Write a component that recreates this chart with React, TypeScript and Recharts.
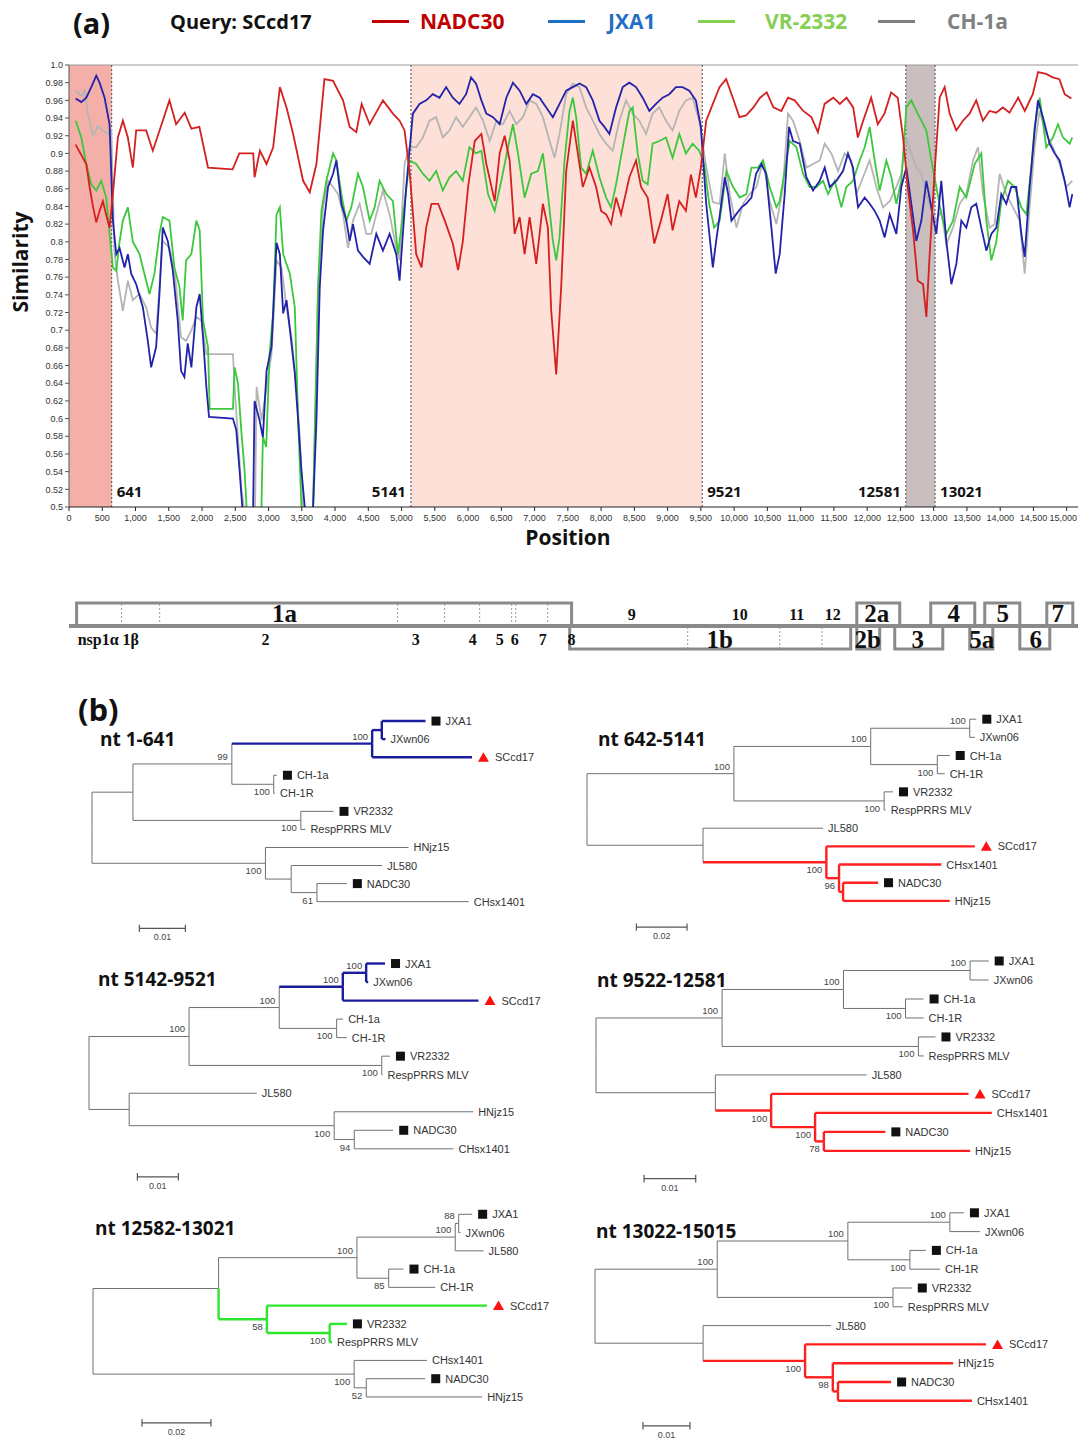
import React from "react";
import {
  ComposedChart,
  Line,
  Scatter,
  XAxis,
  YAxis,
  ReferenceArea,
  ReferenceLine,
} from "recharts";

const SANS = "'Open Sans', 'Noto Sans', sans-serif";
const ARIAL = "'Liberation Sans', Arial, sans-serif";
const SERIF = "'Liberation Serif', 'Times New Roman', serif";

// ---------- panel (a): similarity plot, [position, similarity] ----------
const nadc30 = [
  [100, 0.91], [260, 0.888], [310, 0.862], [360, 0.84], [410, 0.822], [460, 0.835], [510, 0.846], [560, 0.83],
  [610, 0.816], [660, 0.854], [735, 0.918], [810, 0.937], [885, 0.918], [960, 0.884], [1010, 0.926], [1160, 0.926],
  [1260, 0.903], [1410, 0.937], [1510, 0.96], [1610, 0.933], [1740, 0.946], [1840, 0.928], [1960, 0.93], [2090, 0.884],
  [2460, 0.882], [2560, 0.9], [2770, 0.9], [2790, 0.873], [2870, 0.903], [2970, 0.888], [3070, 0.907], [3170, 0.975],
  [3270, 0.952], [3370, 0.922], [3520, 0.869], [3620, 0.856], [3720, 0.888], [3840, 0.984], [3970, 0.982], [4120, 0.96],
  [4220, 0.93], [4320, 0.924], [4400, 0.956], [4520, 0.933], [4720, 0.96], [4870, 0.945], [4970, 0.937], [5045, 0.926],
  [5120, 0.88], [5220, 0.786], [5300, 0.771], [5370, 0.816], [5450, 0.843], [5550, 0.843], [5650, 0.824], [5770, 0.798],
  [5850, 0.768], [5920, 0.8], [6000, 0.862], [6100, 0.914], [6200, 0.922], [6275, 0.888], [6400, 0.846], [6475, 0.9],
  [6550, 0.92], [6625, 0.892], [6700, 0.809], [6775, 0.828], [6850, 0.786], [6925, 0.828], [7025, 0.775], [7125, 0.843],
  [7200, 0.816], [7250, 0.722], [7325, 0.65], [7400, 0.749], [7475, 0.88], [7575, 0.937], [7650, 0.9], [7725, 0.862],
  [7825, 0.884], [7925, 0.862], [8000, 0.835], [8075, 0.831], [8150, 0.82], [8225, 0.85], [8300, 0.831], [8425, 0.873],
  [8525, 0.892], [8600, 0.862], [8700, 0.85], [8800, 0.798], [8900, 0.824], [9000, 0.854], [9075, 0.813], [9175, 0.846],
  [9275, 0.835], [9350, 0.876], [9425, 0.85], [9500, 0.884], [9580, 0.937], [9680, 0.956], [9780, 0.975], [9880, 0.984],
  [9980, 0.963], [10080, 0.941], [10180, 0.943], [10290, 0.952], [10390, 0.963], [10490, 0.969], [10590, 0.952],
  [10710, 0.948], [10810, 0.963], [10910, 0.96], [11040, 0.948], [11160, 0.941], [11260, 0.924], [11360, 0.956],
  [11490, 0.963], [11590, 0.956], [11690, 0.963], [11790, 0.952], [11860, 0.918], [11940, 0.937], [12060, 0.963],
  [12160, 0.933], [12260, 0.945], [12360, 0.969], [12460, 0.963], [12540, 0.918], [12610, 0.862], [12690, 0.813],
  [12760, 0.756], [12840, 0.752], [12890, 0.715], [12940, 0.786], [13015, 0.88], [13090, 0.963], [13165, 0.975],
  [13240, 0.945], [13340, 0.926], [13440, 0.937], [13540, 0.945], [13640, 0.96], [13740, 0.937], [13840, 0.948],
  [13940, 0.946], [14040, 0.952], [14140, 0.946], [14270, 0.963], [14370, 0.948], [14490, 0.967], [14570, 0.992],
  [14690, 0.99], [14790, 0.986], [14890, 0.984], [14970, 0.967], [15070, 0.962],
];

const jxa1 = [
  [100, 0.962], [185, 0.958], [260, 0.963], [335, 0.975], [410, 0.988], [460, 0.98], [535, 0.963], [610, 0.933],
  [660, 0.824], [710, 0.786], [760, 0.793], [835, 0.771], [885, 0.786], [935, 0.764], [1010, 0.752], [1110, 0.726],
  [1185, 0.688], [1235, 0.658], [1310, 0.681], [1360, 0.741], [1410, 0.816], [1485, 0.801], [1560, 0.768], [1635, 0.711],
  [1685, 0.654], [1735, 0.647], [1785, 0.685], [1840, 0.658], [1915, 0.726], [1965, 0.741], [2015, 0.692], [2065, 0.636],
  [2105, 0.602], [2465, 0.6], [2515, 0.587], [2565, 0.541], [2605, 0.5], [2640, 0.45], [2760, 0.45], [2790, 0.62],
  [2865, 0.598], [2915, 0.579], [2970, 0.654], [3045, 0.681], [3120, 0.799], [3170, 0.786], [3220, 0.719], [3270, 0.734],
  [3345, 0.685], [3395, 0.651], [3445, 0.598], [3495, 0.541], [3545, 0.5], [3580, 0.45], [3640, 0.45], [3670, 0.5],
  [3720, 0.598], [3770, 0.749], [3820, 0.813], [3895, 0.862], [3970, 0.877], [4020, 0.892], [4095, 0.843], [4170, 0.824],
  [4220, 0.801], [4270, 0.82], [4345, 0.79], [4420, 0.783], [4520, 0.775], [4620, 0.809], [4720, 0.79], [4820, 0.809],
  [4920, 0.786], [4970, 0.756], [5070, 0.862], [5170, 0.945], [5270, 0.956], [5370, 0.96], [5470, 0.967], [5570, 0.963],
  [5670, 0.975], [5770, 0.963], [5870, 0.956], [5970, 0.967], [6045, 0.986], [6120, 0.979], [6200, 0.96], [6275, 0.945],
  [6375, 0.941], [6475, 0.933], [6575, 0.963], [6675, 0.98], [6775, 0.971], [6875, 0.956], [6975, 0.967], [7075, 0.963],
  [7175, 0.952], [7275, 0.941], [7375, 0.956], [7475, 0.971], [7575, 0.975], [7675, 0.979], [7775, 0.975], [7875, 0.96],
  [7975, 0.937], [8050, 0.93], [8125, 0.922], [8225, 0.952], [8325, 0.975], [8425, 0.98], [8525, 0.975], [8625, 0.963],
  [8725, 0.948], [8825, 0.956], [8925, 0.963], [9025, 0.967], [9125, 0.975], [9225, 0.975], [9325, 0.971], [9425, 0.96],
  [9500, 0.93], [9580, 0.843], [9680, 0.771], [9730, 0.801], [9780, 0.828], [9860, 0.873], [9910, 0.854], [9960, 0.824],
  [10030, 0.831], [10110, 0.839], [10180, 0.843], [10260, 0.85], [10330, 0.877], [10410, 0.888], [10480, 0.877],
  [10560, 0.816], [10625, 0.764], [10685, 0.786], [10760, 0.854], [10826, 0.93], [10886, 0.914], [10986, 0.911],
  [11086, 0.873], [11186, 0.858], [11287, 0.869], [11362, 0.884], [11437, 0.862], [11537, 0.869], [11637, 0.88],
  [11712, 0.9], [11787, 0.884], [11863, 0.839], [11963, 0.85], [12038, 0.843], [12113, 0.835], [12188, 0.824],
  [12263, 0.805], [12339, 0.831], [12439, 0.809], [12514, 0.862], [12589, 0.884], [12664, 0.843], [12739, 0.801],
  [12815, 0.824], [12890, 0.869], [12965, 0.839], [13040, 0.809], [13115, 0.869], [13190, 0.801], [13266, 0.752],
  [13341, 0.775], [13416, 0.824], [13491, 0.816], [13566, 0.839], [13641, 0.843], [13716, 0.816], [13792, 0.79],
  [13867, 0.809], [13942, 0.816], [14017, 0.854], [14092, 0.843], [14167, 0.862], [14242, 0.862], [14318, 0.809],
  [14368, 0.783], [14443, 0.862], [14518, 0.926], [14568, 0.96], [14643, 0.941], [14743, 0.911], [14819, 0.9],
  [14894, 0.892], [14969, 0.869], [15044, 0.839], [15084, 0.854],
];

const vr2332 = [
  [100, 0.937], [185, 0.918], [260, 0.888], [335, 0.865], [410, 0.858], [485, 0.869], [560, 0.85], [610, 0.809],
  [660, 0.771], [710, 0.767], [760, 0.8], [810, 0.824], [885, 0.839], [960, 0.8], [1060, 0.786], [1160, 0.756],
  [1210, 0.741], [1285, 0.764], [1360, 0.809], [1410, 0.828], [1510, 0.824], [1585, 0.771], [1660, 0.749], [1710, 0.711],
  [1760, 0.779], [1840, 0.786], [1915, 0.824], [1965, 0.813], [2015, 0.711], [2090, 0.681], [2115, 0.611], [2465, 0.611],
  [2490, 0.658], [2540, 0.64], [2590, 0.587], [2640, 0.541], [2670, 0.5], [2700, 0.45], [2880, 0.45], [2915, 0.579],
  [2965, 0.568], [3015, 0.673], [3070, 0.72], [3120, 0.831], [3170, 0.839], [3220, 0.786], [3320, 0.764], [3395, 0.726],
  [3445, 0.598], [3495, 0.5], [3520, 0.45], [3650, 0.45], [3670, 0.5], [3745, 0.749], [3795, 0.835], [3870, 0.869],
  [3970, 0.9], [4020, 0.892], [4095, 0.854], [4170, 0.824], [4245, 0.839], [4345, 0.877], [4420, 0.862], [4520, 0.824],
  [4595, 0.839], [4670, 0.869], [4770, 0.854], [4870, 0.846], [4945, 0.786], [5045, 0.843], [5120, 0.892], [5220, 0.888],
  [5320, 0.877], [5420, 0.869], [5520, 0.88], [5620, 0.858], [5720, 0.873], [5820, 0.88], [5920, 0.869], [6020, 0.907],
  [6120, 0.9], [6200, 0.903], [6300, 0.854], [6400, 0.835], [6500, 0.869], [6600, 0.907], [6675, 0.933], [6750, 0.9],
  [6850, 0.85], [6950, 0.877], [7050, 0.88], [7125, 0.9], [7200, 0.854], [7275, 0.801], [7325, 0.779], [7375, 0.805],
  [7450, 0.892], [7525, 0.948], [7575, 0.963], [7625, 0.941], [7700, 0.884], [7775, 0.877], [7875, 0.903], [7975, 0.873],
  [8075, 0.85], [8150, 0.839], [8225, 0.865], [8325, 0.907], [8425, 0.948], [8475, 0.952], [8550, 0.9], [8625, 0.869],
  [8700, 0.865], [8775, 0.911], [8875, 0.914], [8975, 0.918], [9075, 0.895], [9175, 0.922], [9275, 0.9], [9375, 0.911],
  [9475, 0.903], [9550, 0.888], [9625, 0.843], [9700, 0.816], [9783, 0.824], [9884, 0.88], [9984, 0.862], [10084, 0.85],
  [10184, 0.854], [10260, 0.884], [10360, 0.884], [10435, 0.892], [10535, 0.862], [10635, 0.839], [10685, 0.846],
  [10760, 0.88], [10836, 0.914], [10936, 0.907], [11036, 0.877], [11136, 0.862], [11237, 0.862], [11337, 0.869],
  [11412, 0.854], [11512, 0.869], [11612, 0.839], [11687, 0.862], [11787, 0.869], [11888, 0.892], [11963, 0.907],
  [12038, 0.93], [12113, 0.892], [12188, 0.858], [12289, 0.892], [12364, 0.873], [12439, 0.843], [12514, 0.869],
  [12589, 0.952], [12664, 0.96], [12739, 0.948], [12815, 0.937], [12890, 0.926], [12965, 0.892], [13040, 0.862],
  [13115, 0.831], [13190, 0.809], [13291, 0.824], [13391, 0.862], [13491, 0.85], [13616, 0.888], [13716, 0.9],
  [13792, 0.824], [13867, 0.779], [13942, 0.8], [14017, 0.846], [14117, 0.869], [14218, 0.862], [14318, 0.839],
  [14393, 0.831], [14468, 0.884], [14518, 0.93], [14593, 0.963], [14693, 0.907], [14793, 0.918], [14869, 0.933],
  [14944, 0.918], [15044, 0.911], [15084, 0.918],
];

const ch1a = [
  [100, 0.971], [185, 0.965], [235, 0.971], [285, 0.945], [360, 0.92], [435, 0.931], [510, 0.926], [585, 0.922],
  [635, 0.926], [685, 0.786], [735, 0.756], [810, 0.722], [885, 0.756], [960, 0.734], [1060, 0.741], [1160, 0.726],
  [1235, 0.703], [1310, 0.696], [1360, 0.749], [1410, 0.801], [1510, 0.793], [1585, 0.768], [1685, 0.692], [1760, 0.688],
  [1840, 0.7], [1915, 0.715], [1990, 0.711], [2065, 0.673], [2465, 0.673], [2490, 0.636], [2540, 0.579], [2590, 0.522],
  [2630, 0.5], [2660, 0.45], [2790, 0.45], [2820, 0.636], [2895, 0.598], [2970, 0.636], [3045, 0.673], [3120, 0.779],
  [3195, 0.771], [3270, 0.726], [3345, 0.692], [3420, 0.636], [3470, 0.579], [3520, 0.5], [3550, 0.45], [3650, 0.45],
  [3670, 0.5], [3745, 0.749], [3820, 0.839], [3895, 0.869], [3970, 0.862], [4045, 0.854], [4120, 0.831], [4195, 0.793],
  [4270, 0.824], [4370, 0.843], [4470, 0.809], [4545, 0.809], [4620, 0.831], [4720, 0.858], [4820, 0.831], [4920, 0.793],
  [4970, 0.779], [5045, 0.888], [5120, 0.907], [5220, 0.907], [5320, 0.918], [5420, 0.937], [5520, 0.941], [5620, 0.918],
  [5720, 0.926], [5820, 0.941], [5920, 0.93], [6020, 0.941], [6120, 0.952], [6225, 0.937], [6325, 0.914], [6425, 0.937],
  [6525, 0.933], [6625, 0.948], [6725, 0.933], [6825, 0.941], [6925, 0.96], [7025, 0.956], [7125, 0.941], [7225, 0.914],
  [7300, 0.895], [7375, 0.922], [7475, 0.967], [7575, 0.979], [7675, 0.975], [7775, 0.952], [7875, 0.937], [7975, 0.922],
  [8075, 0.911], [8175, 0.903], [8275, 0.937], [8375, 0.96], [8475, 0.945], [8575, 0.937], [8675, 0.922], [8775, 0.945],
  [8875, 0.952], [8975, 0.937], [9075, 0.926], [9175, 0.948], [9275, 0.96], [9375, 0.963], [9475, 0.937], [9580, 0.885],
  [9680, 0.845], [9783, 0.843], [9859, 0.9], [9934, 0.854], [10034, 0.816], [10134, 0.843], [10235, 0.854],
  [10335, 0.862], [10435, 0.892], [10535, 0.846], [10635, 0.82], [10735, 0.862], [10810, 0.945], [10886, 0.937],
  [10986, 0.914], [11086, 0.884], [11186, 0.888], [11287, 0.892], [11362, 0.911], [11462, 0.9], [11562, 0.88],
  [11662, 0.9], [11762, 0.892], [11838, 0.854], [11938, 0.873], [12038, 0.892], [12138, 0.862], [12238, 0.839],
  [12339, 0.846], [12439, 0.862], [12514, 0.877], [12589, 0.918], [12664, 0.9], [12739, 0.884], [12815, 0.877],
  [12890, 0.854], [12965, 0.835], [13040, 0.824], [13115, 0.835], [13190, 0.797], [13291, 0.816], [13391, 0.843],
  [13491, 0.854], [13591, 0.892], [13666, 0.907], [13741, 0.854], [13842, 0.816], [13917, 0.82], [13992, 0.877],
  [14092, 0.854], [14192, 0.839], [14293, 0.824], [14368, 0.764], [14443, 0.839], [14518, 0.907], [14593, 0.948],
  [14693, 0.922], [14793, 0.907], [14894, 0.888], [14994, 0.862], [15084, 0.869],
];

const xTicks = [
  0, 500, 1000, 1500, 2000, 2500, 3000, 3500, 4000, 4500, 5000, 5500, 6000, 6500, 7000, 7500,
  8000, 8500, 9000, 9500, 10000, 10500, 11000, 11500, 12000, 12500, 13000, 13500, 14000, 14500, 15000,
];
const yTicks = [
  0.5, 0.52, 0.54, 0.56, 0.58, 0.6, 0.62, 0.64, 0.66, 0.68, 0.7, 0.72, 0.74,
  0.76, 0.78, 0.8, 0.82, 0.84, 0.86, 0.88, 0.9, 0.92, 0.94, 0.96, 0.98, 1.0,
];

const breakpoints = [641, 5141, 9521, 12581, 13021];
const shaded = [
  { from: 0, to: 641, fill: "#f4b0a8" },
  { from: 5141, to: 9521, fill: "#fde0d8" },
  { from: 12581, to: 13021, fill: "#cbbebe" },
];
const breakLabels = [
  { pos: 641, sim: 0.52, text: "641", side: 1 },
  { pos: 5141, sim: 0.52, text: "5141", side: -1 },
  { pos: 9521, sim: 0.52, text: "9521", side: 1 },
  { pos: 12581, sim: 0.52, text: "12581", side: -1 },
  { pos: 13021, sim: 0.52, text: "13021", side: 1 },
];

const legend = [
  { name: "NADC30", color: "#c00000", x: 372, gap: 48 },
  { name: "JXA1", color: "#1f6fc6", x: 548, gap: 60 },
  { name: "VR-2332", color: "#86cf55", x: 698, gap: 67 },
  { name: "CH-1a", color: "#808080", x: 878, gap: 69 },
];

// ---------- genome map ----------
const orfs = [
  { name: "1a", start: 114, end: 7556, row: 1, label: 3241 },
  { name: "1b", start: 7528, end: 11753, row: 0, label: 9782 },
  { name: "2a", start: 11844, end: 12490, row: 1, label: 12143 },
  { name: "2b", start: 11844, end: 12189, row: 0, label: 12008 },
  { name: "3", start: 12415, end: 13137, row: 0, label: 12760 },
  { name: "4", start: 12956, end: 13618, row: 1, label: 13302 },
  { name: "5a", start: 13543, end: 13889, row: 0, label: 13722 },
  { name: "5", start: 13768, end: 14295, row: 1, label: 14039 },
  { name: "6", start: 14295, end: 14746, row: 0, label: 14535 },
  { name: "7", start: 14701, end: 15092, row: 1, label: 14866 },
];
const nspCuts1a = [791, 1363, 4941, 5648, 6174, 6655, 6716, 7197];
const nspCuts1b = [9302, 10686, 11320];
const nspLabels = [
  { text: "nsp1α 1β", pos: 130, row: 0.42, anchor: "start" },
  { text: "2", pos: 2956, row: 0.42, anchor: "middle" },
  { text: "3", pos: 5212, row: 0.42, anchor: "middle" },
  { text: "4", pos: 6069, row: 0.42, anchor: "middle" },
  { text: "5", pos: 6475, row: 0.42, anchor: "middle" },
  { text: "6", pos: 6700, row: 0.42, anchor: "middle" },
  { text: "7", pos: 7122, row: 0.42, anchor: "middle" },
  { text: "8", pos: 7556, row: 0.42, anchor: "middle" },
  { text: "9", pos: 8460, row: 1.52, anchor: "middle" },
  { text: "10", pos: 10084, row: 1.52, anchor: "middle" },
  { text: "11", pos: 10941, row: 1.52, anchor: "middle" },
  { text: "12", pos: 11482, row: 1.52, anchor: "middle" },
];

// ---------- panel (b): trees (branch depth in substitutions/site) ----------
type TNode = { id: string; p?: string; d: number; name?: string; m?: "s" | "t"; s?: string; b?: boolean; hl?: string };
const BLUE = "#1c1c9e";
const RED = "#ff1f1f";
const GREEN = "#2ee62e";

const tree1: TNode[] = [
  { id: "r", d: 0 },
  { id: "A", p: "r", d: 0.0089 },
  { id: "B", p: "A", d: 0.0304, s: "99" },
  { id: "C", p: "B", d: 0.0609, s: "100", hl: BLUE },
  { id: "D", p: "C", d: 0.063 },
  { id: "JXA1", p: "D", d: 0.0725, name: "JXA1", m: "s" },
  { id: "JXwn06", p: "D", d: 0.0638, name: "JXwn06" },
  { id: "SCcd17", p: "C", d: 0.0826, name: "SCcd17", m: "t" },
  { id: "CHn", p: "B", d: 0.0395, s: "100", b: true },
  { id: "CH-1a", p: "CHn", d: 0.0402, name: "CH-1a", m: "s" },
  { id: "CH-1R", p: "CHn", d: 0.0398, name: "CH-1R" },
  { id: "VRn", p: "A", d: 0.0454, s: "100", b: true },
  { id: "VR2332", p: "VRn", d: 0.0525, name: "VR2332", m: "s" },
  { id: "Resp", p: "VRn", d: 0.0464, name: "RespPRRS MLV" },
  { id: "E", p: "r", d: 0.0377, s: "100", b: true },
  { id: "HNjz15", p: "E", d: 0.0688, name: "HNjz15" },
  { id: "F", p: "E", d: 0.0433 },
  { id: "JL580", p: "F", d: 0.0631, name: "JL580" },
  { id: "G", p: "F", d: 0.0489, s: "61", b: true },
  { id: "NADC30", p: "G", d: 0.0554, name: "NADC30", m: "s" },
  { id: "CHsx1401", p: "G", d: 0.0819, name: "CHsx1401" },
];

const tree2: TNode[] = [
  { id: "r", d: 0 },
  { id: "U", p: "r", d: 0.058, s: "100" },
  { id: "V", p: "U", d: 0.112, s: "100" },
  { id: "JXn", p: "V", d: 0.1511, s: "100" },
  { id: "JXA1", p: "JXn", d: 0.1537, name: "JXA1", m: "s" },
  { id: "JXwn06", p: "JXn", d: 0.1531, name: "JXwn06" },
  { id: "CHn", p: "V", d: 0.1383, s: "100", b: true },
  { id: "CH-1a", p: "CHn", d: 0.1432, name: "CH-1a", m: "s" },
  { id: "CH-1R", p: "CHn", d: 0.1412, name: "CH-1R" },
  { id: "VRn", p: "U", d: 0.1173, s: "100", b: true },
  { id: "VR2332", p: "VRn", d: 0.1208, name: "VR2332", m: "s" },
  { id: "Resp", p: "VRn", d: 0.1179, name: "RespPRRS MLV" },
  { id: "L", p: "r", d: 0.0458 },
  { id: "JL580", p: "L", d: 0.0932, name: "JL580" },
  { id: "M", p: "L", d: 0.0945, s: "100", b: true, hl: RED },
  { id: "SCcd17", p: "M", d: 0.1531, name: "SCcd17", m: "t" },
  { id: "N", p: "M", d: 0.0995, s: "96", b: true },
  { id: "CHsx1401", p: "N", d: 0.1399, name: "CHsx1401" },
  { id: "O", p: "N", d: 0.1011 },
  { id: "NADC30", p: "O", d: 0.1149, name: "NADC30", m: "s" },
  { id: "HNjz15", p: "O", d: 0.1432, name: "HNjz15" },
];

const tree3: TNode[] = [
  { id: "r", d: 0 },
  { id: "P", p: "r", d: 0.0244, s: "100" },
  { id: "Q", p: "P", d: 0.0464, s: "100" },
  { id: "R", p: "Q", d: 0.0619, s: "100", hl: BLUE },
  { id: "JXn", p: "R", d: 0.0676, s: "100" },
  { id: "JXA1", p: "JXn", d: 0.0722, name: "JXA1", m: "s" },
  { id: "JXwn06", p: "JXn", d: 0.0681, name: "JXwn06" },
  { id: "SCcd17", p: "R", d: 0.095, name: "SCcd17", m: "t" },
  { id: "CHn", p: "Q", d: 0.0604, s: "100", b: true },
  { id: "CH-1a", p: "CHn", d: 0.062, name: "CH-1a" },
  { id: "CH-1R", p: "CHn", d: 0.0629, name: "CH-1R" },
  { id: "VRn", p: "P", d: 0.0714, s: "100", b: true },
  { id: "VR2332", p: "VRn", d: 0.0734, name: "VR2332", m: "s" },
  { id: "Resp", p: "VRn", d: 0.0716, name: "RespPRRS MLV" },
  { id: "S", p: "r", d: 0.0098 },
  { id: "JL580", p: "S", d: 0.0409, name: "JL580" },
  { id: "T", p: "S", d: 0.0598, s: "100", b: true },
  { id: "HNjz15", p: "T", d: 0.0937, name: "HNjz15" },
  { id: "W", p: "T", d: 0.0647, s: "94", b: true },
  { id: "NADC30", p: "W", d: 0.0742, name: "NADC30", m: "s" },
  { id: "CHsx1401", p: "W", d: 0.0889, name: "CHsx1401" },
];

const tree4: TNode[] = [
  { id: "r", d: 0 },
  { id: "U", p: "r", d: 0.0244, s: "100" },
  { id: "V", p: "U", d: 0.0479, s: "100" },
  { id: "JXn", p: "V", d: 0.0724, s: "100" },
  { id: "JXA1", p: "JXn", d: 0.076, name: "JXA1", m: "s" },
  { id: "JXwn06", p: "JXn", d: 0.076, name: "JXwn06" },
  { id: "CHn", p: "V", d: 0.0599, s: "100", b: true },
  { id: "CH-1a", p: "CHn", d: 0.0634, name: "CH-1a", m: "s" },
  { id: "CH-1R", p: "CHn", d: 0.0634, name: "CH-1R" },
  { id: "VRn", p: "U", d: 0.0624, s: "100", b: true },
  { id: "VR2332", p: "VRn", d: 0.0657, name: "VR2332", m: "s" },
  { id: "Resp", p: "VRn", d: 0.0634, name: "RespPRRS MLV" },
  { id: "L", p: "r", d: 0.0231 },
  { id: "JL580", p: "L", d: 0.0524, name: "JL580" },
  { id: "M", p: "L", d: 0.0339, s: "100", b: true, hl: RED },
  { id: "SCcd17", p: "M", d: 0.0721, name: "SCcd17", m: "t" },
  { id: "N", p: "M", d: 0.0424, s: "100", b: true },
  { id: "CHsx1401", p: "N", d: 0.0766, name: "CHsx1401" },
  { id: "O", p: "N", d: 0.0441, s: "78", b: true },
  { id: "NADC30", p: "O", d: 0.056, name: "NADC30", m: "s" },
  { id: "HNjz15", p: "O", d: 0.0724, name: "HNjz15" },
];

const tree5: TNode[] = [
  { id: "r", d: 0 },
  { id: "A", p: "r", d: 0.0364 },
  { id: "B", p: "A", d: 0.0765, s: "100" },
  { id: "C", p: "B", d: 0.105, s: "100" },
  { id: "JXn", p: "C", d: 0.106, s: "88" },
  { id: "JXA1", p: "JXn", d: 0.1099, name: "JXA1", m: "s" },
  { id: "JXwn06", p: "JXn", d: 0.1065, name: "JXwn06" },
  { id: "JL580", p: "C", d: 0.1132, name: "JL580" },
  { id: "CHn", p: "B", d: 0.0857, s: "85", b: true },
  { id: "CH-1a", p: "CHn", d: 0.09, name: "CH-1a", m: "s" },
  { id: "CH-1R", p: "CHn", d: 0.0992, name: "CH-1R" },
  { id: "D", p: "A", d: 0.0504, s: "58", b: true, hl: GREEN },
  { id: "SCcd17", p: "D", d: 0.1142, name: "SCcd17", m: "t" },
  { id: "VRn", p: "D", d: 0.0686, s: "100", b: true },
  { id: "VR2332", p: "VRn", d: 0.0736, name: "VR2332", m: "s" },
  { id: "Resp", p: "VRn", d: 0.0693, name: "RespPRRS MLV" },
  { id: "E", p: "r", d: 0.0757, s: "100", b: true },
  { id: "CHsx1401", p: "E", d: 0.0968, name: "CHsx1401" },
  { id: "F", p: "E", d: 0.0792, s: "52", b: true },
  { id: "NADC30", p: "F", d: 0.0963, name: "NADC30", m: "s" },
  { id: "HNjz15", p: "F", d: 0.1128, name: "HNjz15" },
];

const tree6: TNode[] = [
  { id: "r", d: 0 },
  { id: "U", p: "r", d: 0.026, s: "100" },
  { id: "V", p: "U", d: 0.0538, s: "100" },
  { id: "JXn", p: "V", d: 0.0755, s: "100" },
  { id: "JXA1", p: "JXn", d: 0.0785, name: "JXA1", m: "s" },
  { id: "JXwn06", p: "JXn", d: 0.0819, name: "JXwn06" },
  { id: "CHn", p: "V", d: 0.067, s: "100", b: true },
  { id: "CH-1a", p: "CHn", d: 0.0704, name: "CH-1a", m: "s" },
  { id: "CH-1R", p: "CHn", d: 0.0734, name: "CH-1R" },
  { id: "VRn", p: "U", d: 0.0634, s: "100", b: true },
  { id: "VR2332", p: "VRn", d: 0.0674, name: "VR2332", m: "s" },
  { id: "Resp", p: "VRn", d: 0.0655, name: "RespPRRS MLV" },
  { id: "L", p: "r", d: 0.023 },
  { id: "JL580", p: "L", d: 0.0502, name: "JL580" },
  { id: "M", p: "L", d: 0.0447, s: "100", b: true, hl: RED },
  { id: "SCcd17", p: "M", d: 0.0832, name: "SCcd17", m: "t" },
  { id: "N", p: "M", d: 0.0506, s: "98", b: true },
  { id: "HNjz15", p: "N", d: 0.0762, name: "HNjz15" },
  { id: "O", p: "N", d: 0.0517 },
  { id: "NADC30", p: "O", d: 0.063, name: "NADC30", m: "s" },
  { id: "CHsx1401", p: "O", d: 0.0802, name: "CHsx1401" },
];

const trees = [
  { title: "nt 1-641", tx: 100, ty: 739, nodes: tree1, rootX: 91.7, y0: 720.7, step: 18.06, scale: 4600, xmax: 0.09, bar: 0.0103, barLen: 0.01, barRow: 11.48, barText: "0.01" },
  { title: "nt 642-5141", tx: 598, ty: 739, nodes: tree2, rootX: 587.3, y0: 719.3, step: 18.17, scale: 2533, xmax: 0.16, bar: 0.0195, barLen: 0.02, barRow: 11.45, barText: "0.02" },
  { title: "nt 5142-9521", tx: 98, ty: 979, nodes: tree3, rootX: 89, y0: 964, step: 18.53, scale: 4100, xmax: 0.1, bar: 0.0118, barLen: 0.01, barRow: 11.51, barText: "0.01" },
  { title: "nt 9522-12581", tx: 597, ty: 980, nodes: tree4, rootX: 595.7, y0: 960.7, step: 18.99, scale: 5167, xmax: 0.08, bar: 0.0093, barLen: 0.01, barRow: 11.46, barText: "0.01" },
  { title: "nt 12582-13021", tx: 95, ty: 1228, nodes: tree5, rootX: 92.7, y0: 1214, step: 18.27, scale: 3450, xmax: 0.12, bar: 0.0142, barLen: 0.02, barRow: 11.42, barText: "0.02", hlVert: true },
  { title: "nt 13022-15015", tx: 596, ty: 1231, nodes: tree6, rootX: 595, y0: 1213, step: 18.8, scale: 4700, xmax: 0.09, bar: 0.0102, barLen: 0.01, barRow: 11.33, barText: "0.01" },
];

// ---------- components ----------
const toPts = (a: number[][]) => a.map(([pos, sim]) => ({ pos, sim }));

function XTick(props: any) {
  const { x, y, payload } = props;
  const last = payload.value === xTicks[xTicks.length - 1];
  return (
    <text
      x={last ? 1077 : x}
      y={y + 8}
      textAnchor={last ? "end" : "middle"}
      fontFamily={ARIAL}
      fontSize={9}
      fill="#333"
    >
      {Number(payload.value).toLocaleString("en-US")}
    </text>
  );
}

function BreakLabel(props: any) {
  const { cx, cy, payload } = props;
  return (
    <text
      x={cx + payload.side * 5}
      y={cy + 8}
      textAnchor={payload.side > 0 ? "start" : "end"}
      fontFamily={SANS}
      fontWeight={700}
      fontSize={15}
      fill="#111"
    >
      {payload.text}
    </text>
  );
}

function SimilarityPlot() {
  return (
    <ComposedChart width={1078} height={530} margin={{ top: 65, right: 0, bottom: 0, left: 29 }}>
      {shaded.map((s) => (
        <ReferenceArea key={s.from} x1={s.from} x2={s.to} y1={0.5} y2={1} fill={s.fill} fillOpacity={1} stroke="none" />
      ))}
      <XAxis
        type="number"
        dataKey="pos"
        domain={[0, 15170]}
        ticks={xTicks}
        interval={0}
        allowDataOverflow
        height={23}
        tickSize={4}
        stroke="#222"
        tick={<XTick />}
      />
      <YAxis
        type="number"
        dataKey="sim"
        domain={[0.5, 1]}
        ticks={yTicks}
        interval={0}
        allowDataOverflow
        width={40}
        tickSize={4}
        stroke="#555"
        tick={{ fontSize: 9, fill: "#333", fontFamily: ARIAL }}
        tickFormatter={(v: number) => (v === 1 ? "1.0" : String(Number(v.toFixed(2))))}
      />
      <ReferenceLine y={1} stroke="#9a9a9a" />
      {breakpoints.map((b) => (
        <ReferenceLine key={b} x={b} stroke="#666" strokeDasharray="2 2" strokeWidth={1.2} />
      ))}
      <Line data={toPts(ch1a)} dataKey="sim" stroke="#b5b5b5" strokeWidth={1.8} dot={false} isAnimationActive={false} />
      <Line data={toPts(vr2332)} dataKey="sim" stroke="#3cc83c" strokeWidth={1.8} dot={false} isAnimationActive={false} />
      <Line data={toPts(jxa1)} dataKey="sim" stroke="#2222aa" strokeWidth={1.8} dot={false} isAnimationActive={false} />
      <Line data={toPts(nadc30)} dataKey="sim" stroke="#d42020" strokeWidth={1.8} dot={false} isAnimationActive={false} />
      <Scatter data={breakLabels} shape={BreakLabel} isAnimationActive={false} />
    </ComposedChart>
  );
}

function MapLabel(props: any) {
  const { cx, cy, payload } = props;
  return (
    <text
      x={cx}
      y={cy}
      textAnchor={payload.anchor}
      dominantBaseline="central"
      fontFamily={SERIF}
      fontWeight={700}
      fontSize={payload.size}
      fill="#111"
    >
      {payload.text}
    </text>
  );
}

function GenomeMap() {
  const labels = [
    ...orfs.map((o) => ({
      pos: o.label,
      row: o.row === 1 ? 1.56 : 0.4,
      text: o.name,
      size: 25,
      anchor: "middle",
    })),
    ...nspLabels.map((l) => ({ ...l, size: 16 })),
  ];
  return (
    <ComposedChart width={1078} height={70} margin={{ top: 13, right: 0, bottom: 11, left: 69 }}>
      <XAxis type="number" dataKey="pos" domain={[0, 15170]} hide />
      <YAxis type="number" dataKey="row" domain={[0, 2]} hide />
      {orfs.map((o) => (
        <ReferenceArea
          key={o.name}
          x1={o.start}
          x2={o.end}
          y1={o.row}
          y2={o.row + 1}
          fill="#fff"
          fillOpacity={1}
          stroke="#8a8a8a"
          strokeWidth={3}
        />
      ))}
      {nspCuts1a.map((c) => (
        <ReferenceLine key={"a" + c} segment={[{ x: c, y: 1 }, { x: c, y: 2 }]} stroke="#999" strokeDasharray="2 2" />
      ))}
      {nspCuts1b.map((c) => (
        <ReferenceLine key={"b" + c} segment={[{ x: c, y: 0 }, { x: c, y: 1 }]} stroke="#999" strokeDasharray="2 2" />
      ))}
      <ReferenceLine y={1} stroke="#8a8a8a" strokeWidth={4} />
      <Scatter data={labels} shape={MapLabel} isAnimationActive={false} />
    </ComposedChart>
  );
}

function layoutTree(nodes: TNode[]) {
  const kids: Record<string, TNode[]> = {};
  nodes.forEach((n) => {
    if (n.p) (kids[n.p] = kids[n.p] || []).push(n);
  });
  const y: Record<string, number> = {};
  let leaf = 0;
  const walk = (n: TNode): number => {
    const c = kids[n.id];
    if (!c) return (y[n.id] = leaf++);
    const ys = c.map(walk);
    return (y[n.id] = (ys[0] + ys[ys.length - 1]) / 2);
  };
  walk(nodes[0]);
  return y;
}

function TipLabel(props: any) {
  const { cx, cy, payload } = props;
  const tx = cx + (payload.m ? 20 : 5);
  return (
    <g>
      {payload.m === "s" && <rect x={cx + 6} y={cy - 4.5} width={9} height={9} fill="#111" />}
      {payload.m === "t" && (
        <polygon points={`${cx + 6},${cy + 4.5} ${cx + 17},${cy + 4.5} ${cx + 11.5},${cy - 5}`} fill="#ff1010" />
      )}
      <text x={payload.m === "t" ? tx + 3 : tx} y={cy} dominantBaseline="central" fontFamily={ARIAL} fontSize={11} fill="#333">
        {payload.name}
      </text>
    </g>
  );
}

function SupportLabel(props: any) {
  const { cx, cy, payload } = props;
  return (
    <text x={cx - 4} y={payload.b ? cy + 11 : cy - 4} textAnchor="end" fontFamily={ARIAL} fontSize={9.5} fill="#444">
      {payload.s}
    </text>
  );
}

function BarLabel(props: any) {
  const { cx, cy, payload } = props;
  return (
    <text x={cx} y={cy} textAnchor="middle" dominantBaseline="central" fontFamily={ARIAL} fontSize={9} fill="#444">
      {payload.text}
    </text>
  );
}

function Tree({ t }: { t: any }) {
  const nodes: TNode[] = t.nodes;
  const ys = layoutTree(nodes);
  const byId: Record<string, TNode> = {};
  nodes.forEach((n) => (byId[n.id] = n));
  const colorOf = (n: TNode): string | undefined => n.hl || (n.p ? colorOf(byId[n.p]) : undefined);

  const segs: { a: any; b: any; c?: string }[] = [];
  nodes.forEach((n) => {
    if (!n.p) return;
    const par = byId[n.p];
    const c = colorOf(n);
    const vc = n.hl && !t.hlVert ? colorOf(par) : c;
    segs.push({ a: { x: par.d, y: ys[par.id] }, b: { x: par.d, y: ys[n.id] }, c: vc });
    segs.push({ a: { x: par.d, y: ys[n.id] }, b: { x: n.d, y: ys[n.id] }, c });
  });
  // plain branches first, coloured ones on top
  segs.sort((p, q) => (p.c ? 1 : 0) - (q.c ? 1 : 0));

  const tips = nodes.filter((n) => n.name).map((n) => ({ x: n.d, y: ys[n.id], name: n.name, m: n.m }));
  const sups = nodes.filter((n) => n.s).map((n) => ({ x: n.d, y: ys[n.id], s: n.s, b: n.b }));
  const r = t.barRow;
  const bar = [
    [{ x: t.bar, y: r }, { x: t.bar + t.barLen, y: r }],
    [{ x: t.bar, y: r - 0.2 }, { x: t.bar, y: r + 0.2 }],
    [{ x: t.bar + t.barLen, y: r - 0.2 }, { x: t.bar + t.barLen, y: r + 0.2 }],
  ];

  // rows run from -1 (above the first tip) to 13 (below the scale bar)
  const yMin = -1;
  const yMax = 13;
  const m = { top: 4, right: 140, bottom: 4, left: 30 };
  const plotW = t.xmax * t.scale;
  const plotH = (yMax - yMin) * t.step;
  return (
    <>
      <div
        style={{
          position: "absolute",
          left: t.tx,
          top: t.ty - 14,
          fontFamily: SANS,
          fontWeight: 700,
          fontSize: 19,
          lineHeight: "28px",
          color: "#111",
          whiteSpace: "nowrap",
        }}
      >
        {t.title}
      </div>
      <div style={{ position: "absolute", left: t.rootX - m.left, top: t.y0 + yMin * t.step - m.top }}>
        <ComposedChart width={m.left + plotW + m.right} height={m.top + plotH + m.bottom} margin={m}>
          <XAxis type="number" dataKey="x" domain={[0, t.xmax]} hide />
          <YAxis type="number" dataKey="y" domain={[yMin, yMax]} reversed hide />
          {segs.map((s, i) => (
            <ReferenceLine
              key={i}
              segment={[s.a, s.b]}
              stroke={s.c || "#6f6f6f"}
              strokeWidth={s.c ? 2.4 : 1}
              ifOverflow="visible"
            />
          ))}
          {bar.map((s, i) => (
            <ReferenceLine key={"bar" + i} segment={s} stroke="#555" strokeWidth={1.2} ifOverflow="visible" />
          ))}
          <Scatter data={tips} shape={TipLabel} isAnimationActive={false} />
          <Scatter data={sups} shape={SupportLabel} isAnimationActive={false} />
          <Scatter
            data={[{ x: t.bar + t.barLen / 2, y: r + 0.48, text: t.barText }]}
            shape={BarLabel}
            isAnimationActive={false}
          />
        </ComposedChart>
      </div>
    </>
  );
}

export default function App() {
  return (
    <div style={{ position: "relative", width: 1078, height: 1441, background: "#fff", overflow: "hidden" }}>
      <style>{"body{margin:0}"}</style>

      <div style={{ position: "absolute", left: 73, top: 3, fontFamily: SANS, fontWeight: 700, fontSize: 29, color: "#111" }}>
        (a)
      </div>
      <div style={{ position: "absolute", left: 170, top: 8, fontFamily: SANS, fontWeight: 700, fontSize: 20, color: "#111" }}>
        Query: SCcd17
      </div>
      {legend.map((l) => (
        <React.Fragment key={l.name}>
          <div style={{ position: "absolute", left: l.x, top: 20, width: 37, height: 3, background: l.color }} />
          <div
            style={{
              position: "absolute",
              left: l.x + l.gap,
              top: 7,
              fontFamily: SANS,
              fontWeight: 700,
              fontSize: 21,
              color: l.color,
            }}
          >
            {l.name}
          </div>
        </React.Fragment>
      ))}

      <div
        style={{
          position: "absolute",
          left: 20 - 100,
          top: 262 - 14,
          width: 200,
          textAlign: "center",
          transform: "rotate(-90deg)",
          fontFamily: SANS,
          fontWeight: 700,
          fontSize: 21,
          lineHeight: "28px",
          color: "#111",
        }}
      >
        Similarity
      </div>

      <div style={{ position: "absolute", left: 0, top: 0 }}>
        <SimilarityPlot />
      </div>

      <div
        style={{
          position: "absolute",
          left: 468,
          top: 523,
          width: 200,
          textAlign: "center",
          fontFamily: SANS,
          fontWeight: 700,
          fontSize: 21,
          lineHeight: "28px",
          color: "#111",
        }}
      >
        Position
      </div>

      <div style={{ position: "absolute", left: 0, top: 590 }}>
        <GenomeMap />
      </div>

      <div style={{ position: "absolute", left: 78, top: 688, fontFamily: SANS, fontWeight: 700, fontSize: 31, color: "#111" }}>
        (b)
      </div>

      {trees.map((t) => (
        <Tree key={t.title} t={t} />
      ))}
    </div>
  );
}
